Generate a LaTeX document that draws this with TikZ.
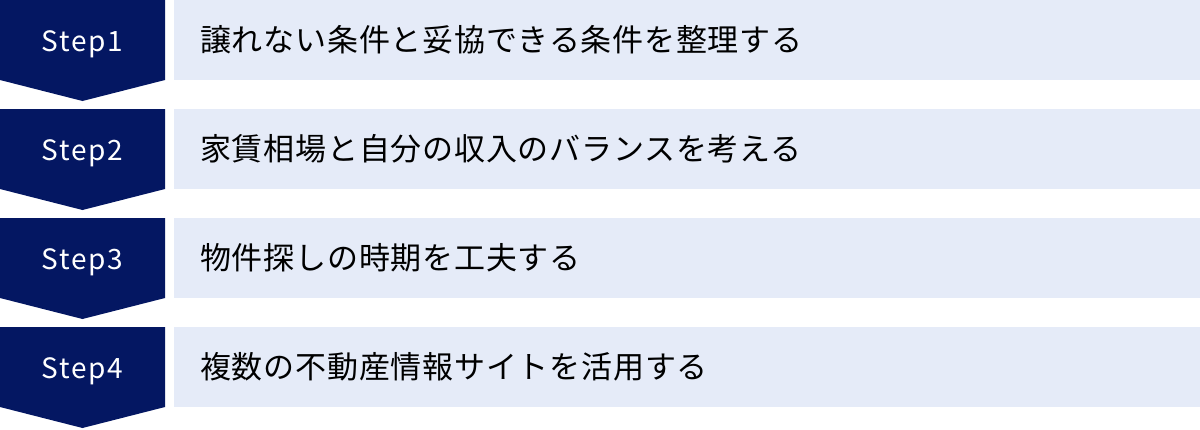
\documentclass[tikz,border=0pt]{standalone}
\usepackage{fontspec}
\setmainfont{Noto Sans CJK JP}
\newfontfamily\stepfont[LetterSpace=6]{Noto Sans CJK JP}
\newfontfamily\bandfont[LetterSpace=2.5]{Noto Sans CJK JP}
\usetikzlibrary{positioning}
\definecolor{stepnavy}{HTML}{041762}
\definecolor{steplight}{HTML}{E5EBF8}

\begin{document}
\begin{tikzpicture}[x=1pt,y=-1pt,
    steplabel/.style={anchor=base,inner sep=0pt,text=white,font=\stepfont\fontsize{28}{28}\selectfont},
    steptext/.style={anchor=base west,inner sep=0pt,text=black,font=\bandfont\fontsize{31}{31}\selectfont}]
    \useasboundingbox (0,0) rectangle (1200,429);
    % one row per step: arrow on the left, text band on the right
    \foreach \i/\txt in {1/譲れない条件と妥協できる条件を整理する,
                         2/家賃相場と自分の収入のバランスを考える,
                         3/物件探しの時期を工夫する,
                         4/複数の不動産情報サイトを活用する} {
        \pgfmathsetmacro\top{(\i-1)*109}
        \fill[stepnavy] (0,\top) -- (165,\top) -- (165,\top+80) -- (82.5,\top+101) -- (0,\top+80) -- cycle;
        \fill[steplight] (174,\top) rectangle (1200,\top+80);
        \node[steplabel] (step\i) at (82.5,\top+51.5) {Step\i};
        \node[steptext] (text\i) at (200,\top+51.5) {\txt};
    }
\end{tikzpicture}
\end{document}
